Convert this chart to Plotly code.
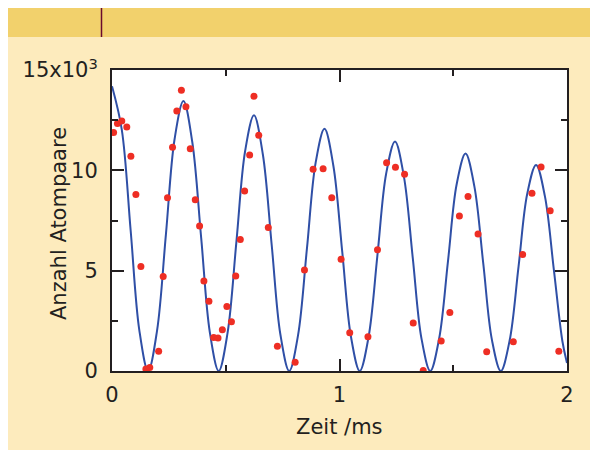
import plotly.graph_objects as go

# ---- data (time in ms, counts in units of 10^3 atom pairs) ----
meas_t = [0.007, 0.024, 0.043, 0.065, 0.083, 0.105, 0.127, 0.149, 0.166, 0.205,
          0.225, 0.244, 0.266, 0.285, 0.305, 0.325, 0.344, 0.366, 0.385, 0.404,
          0.426, 0.447, 0.466, 0.485, 0.505, 0.525, 0.544, 0.564, 0.583, 0.605,
          0.624, 0.645, 0.687, 0.727, 0.805, 0.846, 0.884, 0.928, 0.966, 1.007,
          1.045, 1.125, 1.167, 1.207, 1.246, 1.286, 1.324, 1.368, 1.447, 1.485,
          1.527, 1.565, 1.609, 1.647, 1.764, 1.805, 1.846, 1.886, 1.926, 1.964]
meas_n = [11.88, 12.34, 12.46, 12.16, 10.70, 8.79, 5.21, 0.10, 0.18, 0.98,
          4.71, 8.63, 11.15, 12.96, 13.99, 13.17, 11.08, 8.53, 7.23, 4.48,
          3.48, 1.67, 1.64, 2.06, 3.22, 2.45, 4.73, 6.55, 8.97, 10.77,
          13.69, 11.75, 7.15, 1.23, 0.43, 5.03, 10.05, 10.08, 8.63, 5.57,
          1.91, 1.71, 6.04, 10.38, 10.15, 9.80, 2.39, 0.02, 1.49, 2.92,
          7.73, 8.69, 6.83, 0.96, 1.46, 5.80, 8.86, 10.17, 7.98, 0.98]

fit_t = [0.000, 0.043, 0.082, 0.120, 0.159, 0.198, 0.237, 0.275, 0.314, 0.353,
         0.392, 0.430, 0.469, 0.508, 0.547, 0.585, 0.624, 0.663, 0.702, 0.740,
         0.779, 0.818, 0.857, 0.895, 0.934, 0.973, 1.012, 1.050, 1.089, 1.128,
         1.167, 1.205, 1.244, 1.283, 1.322, 1.360, 1.399, 1.438, 1.477, 1.515,
         1.554, 1.593, 1.632, 1.670, 1.709, 1.748, 1.787, 1.825, 1.864, 1.903,
         1.942, 1.980, 2.000]
fit_n = [14.19, 12.03, 7.00, 2.04, 0.00, 2.01, 6.81, 11.55, 13.45, 11.40,
         6.63, 1.93, 0.00, 1.90, 6.46, 10.95, 12.74, 10.80, 6.28, 1.83,
         0.00, 1.80, 6.12, 10.37, 12.07, 10.23, 5.95, 1.73, 0.00, 1.71,
         5.80, 9.83, 11.44, 9.70, 5.64, 1.64, 0.00, 1.62, 5.49, 9.31,
         10.84, 9.19, 5.35, 1.55, 0.00, 1.53, 5.20, 8.82, 10.27, 8.70,
         5.07, 1.47, 0.40]

x_tickvals = [0, 1, 2]
x_ticktext = ["0", "1", "2"]
y_tickvals = [0, 5, 10, 15]
y_ticktext = ["0", "5", "10", "15x10<sup>3</sup>"]

x_title = "Zeit /ms"
y_title = "Anzahl Atompaare"

# ---- figure ----
# the page body has an 8 px margin (shows as white frame), so the figure is
# 8 px smaller and everything is laid out in page coordinates minus 8.
OFF = 8
W, H = 598 - OFF, 450 - OFF
ML, MT = 112 - OFF, 70 - OFF
PW, PH = 455, 301
MR, MB = W - ML - PW, H - MT - PH

def px(x):  # page pixel -> paper x
    return (x - OFF - ML) / PW

def py(y):  # page pixel -> paper y
    return (MT + PH - (y - OFF)) / PH

ink = "#231F20"
font = dict(family="DejaVu Sans, Arial, sans-serif", size=21, color=ink)

fig = go.Figure()
fig.add_trace(go.Scatter(x=fit_t, y=fit_n, mode="lines",
                         line=dict(color="#2F4FA6", width=2, shape="spline", smoothing=1.0),
                         hoverinfo="skip", showlegend=False))
fig.add_trace(go.Scatter(x=meas_t, y=meas_n, mode="markers",
                         marker=dict(color="#EE2E24", size=7, line=dict(width=0)),
                         showlegend=False))

shapes = [
    dict(type="rect", xref="paper", yref="paper", x0=px(OFF), x1=px(598), y0=py(37), y1=py(OFF),
         fillcolor="#F2D16C", line=dict(width=0)),
    dict(type="line", xref="paper", yref="paper", x0=px(101.5), x1=px(101.5), y0=py(37), y1=py(OFF),
         line=dict(color="#6A0A2E", width=1.5)),
]

annotations = [
    dict(text=x_title, xref="paper", yref="paper", x=0.5, y=py(427),
         xanchor="center", yanchor="middle", showarrow=False, font=font),
    dict(text=y_title, xref="paper", yref="paper", x=px(59), y=py(224),
         xanchor="center", yanchor="middle", textangle=-90, showarrow=False, font=font),
]

axis_common = dict(showline=True, linecolor=ink, linewidth=2, mirror="ticks",
                   ticks="inside", ticklen=12, tickwidth=2, tickcolor=ink,
                   showgrid=False, zeroline=False, tickfont=font, automargin=False)

fig.update_layout(
    width=W, height=H,
    margin=dict(l=ML, r=MR, t=MT, b=MB, pad=0),
    paper_bgcolor="#FDEBBD",
    plot_bgcolor="#FFFFFF",
    shapes=shapes,
    annotations=annotations,
    xaxis=dict(range=[0, 2], tickvals=x_tickvals, ticktext=x_ticktext,
               minor=dict(ticks="inside", ticklen=6, tickwidth=2, tickcolor=ink, dtick=0.5,
                          showgrid=False),
               ticklabelstandoff=4,
               **axis_common),
    yaxis=dict(range=[0, 15], tickvals=y_tickvals, ticktext=y_ticktext,
               minor=dict(ticks="inside", ticklen=6, tickwidth=2, tickcolor=ink, dtick=2.5,
                          showgrid=False),
               ticklabelstandoff=8,
               **axis_common),
)

fig.write_html("out.html")
